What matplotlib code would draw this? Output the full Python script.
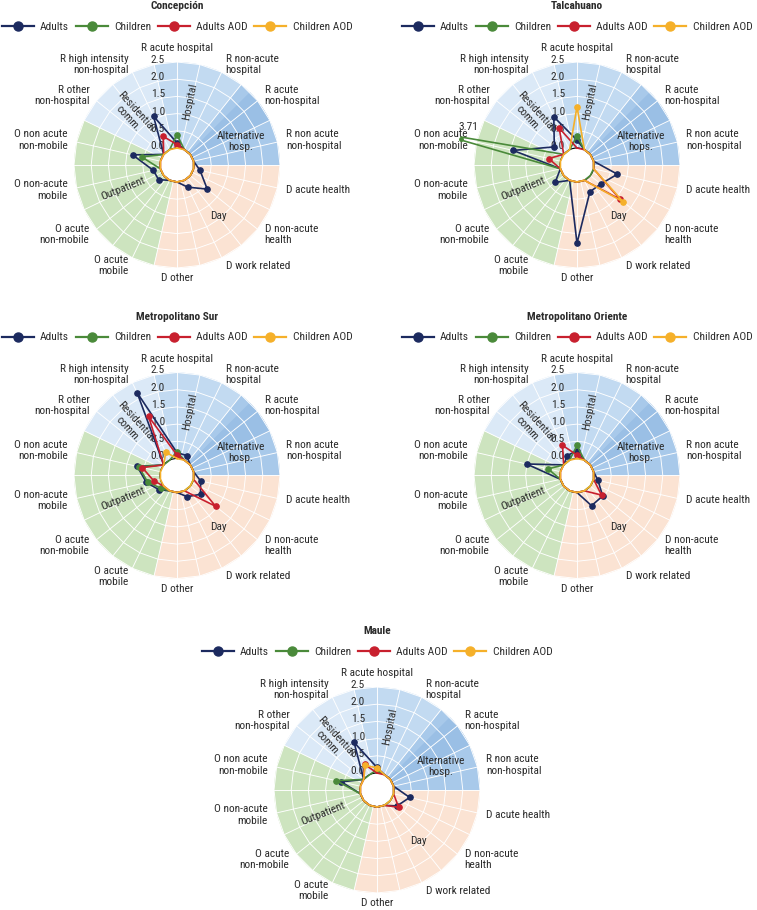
import numpy as np
import matplotlib
matplotlib.use('Agg')
import matplotlib.pyplot as plt
from matplotlib.lines import Line2D
from matplotlib.transforms import offset_copy
from matplotlib import font_manager

names = {f.name for f in font_manager.fontManager.ttflist}
narrow = [n for n in ['Liberation Sans Narrow', 'Roboto Condensed', 'Roboto', 'DejaVu Sans'] if n in names]
plt.rcParams['font.family'] = narrow + ['DejaVu Sans']

#==============================================================================
# DATA
#==============================================================================

categories = ['R acute hospital', 'R non-acute\nhospital', 'R acute\nnon-hospital',
              'R non acute\nnon-hospital', 'D acute health', 'D non-acute\nhealth',
              'D work related', 'D other', 'O acute\nmobile', 'O acute\nnon-mobile',
              'O non-acute\nmobile', 'O non acute\nnon-mobile', 'R other\nnon-hospital',
              'R high intensity\nnon-hospital']

series_names = ['Adults', 'Children', 'Adults AOD', 'Children AOD']

regions = ['Concepción', 'Talcahuano', 'Metropolitano Sur',
           'Metropolitano Oriente', 'Maule']

concepcion_adults      = [0.15, 0, 0, 0, 0.19, 0.63, 0.22, 0, 0, 0.19, 0.21, 0.83, 0, 1.08]
concepcion_children    = [0.39, 0, 0, 0, 0, 0, 0, 0, 0, 0, 0, 0.56, 0, 0]
concepcion_adults_aod  = [0.10, 0, 0, 0, 0, 0, 0, 0, 0, 0, 0, 0, 0, 0.43]
concepcion_children_aod = [0] * 14

talcahuano_adults      = [0.23, 0, 0, 0, 0.71, 0.39, 0.37, 1.78, 0, 0.32, 0, 1.41, 0.35, 1.06]
talcahuano_children    = [0.35, 0, 0, 0, 0, 0, 0, 0, 0, 0, 0, 3.71, 0, 0]
talcahuano_adults_aod  = [0, 0, 0, 0, 0, 1.11, 0, 0, 0, 0, 0, 0.35, 0, 0.70]
talcahuano_children_aod = [1.20, 0, 0, 0, 0, 1.22, 0, 0, 0, 0, 0, 0, 0, 0]

msur_adults      = [0.17, 0.15, 0, 0, 0.21, 0.38, 0.19, 0, 0, 0.17, 0.42, 0.69, 0, 2.18]
msur_children    = [0.20, 0, 0, 0, 0, 0, 0, 0, 0, 0.10, 0.38, 0.64, 0, 0]
msur_adults_aod  = [0.10, 0, 0, 0, 0, 0.94, 0, 0, 0, 0, 0.20, 0.54, 0, 1.41]
msur_children_aod = [0, 0, 0, 0, 0, 0, 0, 0, 0, 0, 0, 0, 0, 0.26]

moriente_adults      = [0.23, 0, 0, 0, 0.13, 0.46, 0.48, 0, 0, 0, 0, 1.01, 0, 0.15]
moriente_children    = [0.38, 0, 0, 0, 0, 0, 0, 0, 0, 0, 0, 0.37, 0, 0]
moriente_adults_aod  = [0.10, 0, 0, 0, 0, 0.42, 0, 0, 0, 0, 0, 0, 0, 0.48]
moriente_children_aod = [0] * 14

maule_adults      = [0.16, 0, 0, 0, 0.48, 0.25, 0, 0, 0, 0, 0, 0.57, 0, 1.04]
maule_children    = [0.10, 0, 0, 0, 0, 0, 0, 0, 0, 0, 0, 0.72, 0, 0]
maule_adults_aod  = [0, 0, 0, 0, 0, 0.31, 0, 0, 0, 0, 0, 0, 0, 0.33]
maule_children_aod = [0.15, 0, 0, 0, 0, 0, 0, 0, 0, 0, 0, 0, 0, 0.30]

region_data = {
    'Concepción': [concepcion_adults, concepcion_children, concepcion_adults_aod, concepcion_children_aod],
    'Talcahuano': [talcahuano_adults, talcahuano_children, talcahuano_adults_aod, talcahuano_children_aod],
    'Metropolitano Sur': [msur_adults, msur_children, msur_adults_aod, msur_children_aod],
    'Metropolitano Oriente': [moriente_adults, moriente_children, moriente_adults_aod, moriente_children_aod],
    'Maule': [maule_adults, maule_children, maule_adults_aod, maule_children_aod],
}

band_labels = ['Hospital', 'Alternative\nhosp.', 'Day', 'Outpatient', 'Residential\ncomm.']
band_start  = [0, 2, 4, 8, 12]
band_size   = [2, 2, 4, 4, 2]

yticks = [0.0, 0.5, 1.0, 1.5, 2.0, 2.5]

#==============================================================================
# STYLE
#==============================================================================

W, H = 757, 910
series_colors = ['#1c2a5f', '#4a8a3a', '#c8202e', '#f5b02a']
band_colors   = ['#c2daf1', '#a8c9ea', '#fbe3d3', '#cde4bf', '#dbe9f7']
dark_alt      = '#9abfe5'
text_color    = '#2b2b2b'
FS = 8.2

centers = [(177, 165), (577, 165), (177, 475.5), (577, 475.5), (377, 790)]
PX_UNIT = 34.4          # pixels per unit
R0      = 17 / PX_UNIT  # hole
RMAX    = 2.965
RPIX    = (RMAX + R0) * PX_UNIT
RGRID   = 2.5

band_text_pos = [(11.5, 1.40, 78.5), (70, 1.48, 0), (141.4, 1.42, 0),
                 (246.5, 1.21, 22), (318, 1.47, -48)]


def clip_polar(th, r, rlim):
    """Cut a closed polar polyline at radius rlim (straight segments on screen)."""
    x = (r + R0) * np.sin(th)
    y = (r + R0) * np.cos(th)
    R = rlim + R0
    px, py = [], []
    for i in range(len(x) - 1):
        p = np.array([x[i], y[i]])
        d = np.array([x[i + 1], y[i + 1]]) - p
        a, b, c = d @ d, 2 * p @ d, p @ p - R * R
        disc = b * b - 4 * a * c
        if a == 0 or disc <= 0:
            if c <= 0:
                px += [p[0], p[0] + d[0]]; py += [p[1], p[1] + d[1]]
            continue
        t0 = max(0.0, (-b - np.sqrt(disc)) / (2 * a))
        t1 = min(1.0, (-b + np.sqrt(disc)) / (2 * a))
        if t1 <= t0:
            continue
        s, e = p + t0 * d, p + t1 * d
        px += [s[0], e[0]]; py += [s[1], e[1]]
        if t1 < 1.0:
            px.append(np.nan); py.append(np.nan)
    px, py = np.array(px), np.array(py)
    return np.arctan2(px, py), np.hypot(px, py) - R0


fig = plt.figure(figsize=(W / 100, H / 100), dpi=100)

n = len(categories)
step = 2 * np.pi / n
theta = np.arange(n) * step

for region, (cx, cy) in zip(regions, centers):
    ax = fig.add_axes([(cx - RPIX) / W, 1 - (cy + RPIX) / H, 2 * RPIX / W, 2 * RPIX / H],
                      projection='polar')
    ax.set_theta_zero_location('N')
    ax.set_theta_direction(-1)
    ax.set_ylim(0, RMAX)
    ax.set_rorigin(-R0)
    ax.set_xticks([])
    ax.set_yticks([])
    ax.grid(False)
    for sp in ax.spines.values():
        sp.set_visible(False)
    ax.patch.set_visible(False)

    # sector bands
    for lab, s0, sz, col in zip(band_labels, band_start, band_size, band_colors):
        ax.bar((s0 + (sz - 1) / 2) * step, RGRID, width=sz * step, bottom=0,
               color=col, edgecolor='none', zorder=1)
    ax.bar(np.deg2rad((45 + 64.3) / 2), RGRID, width=np.deg2rad(64.3 - 45),
           bottom=0, color=dark_alt, edgecolor='none', zorder=1)

    # polygon grid
    spokes = np.arange(2 * n) * step / 2 - step / 2
    for a in spokes:
        ax.plot([a, a], [0, RGRID], color='white', lw=0.65, zorder=2)
    for r in yticks[1:]:
        ax.plot(np.append(spokes, spokes[0]), [r] * (2 * n + 1),
                color='white', lw=0.65, zorder=2)

    # band labels
    for lab, (adeg, rr, rot) in zip(band_labels, band_text_pos):
        if region == 'Talcahuano' and lab.startswith('Alternative'):
            lab = 'Alternative\nhops.'
        ax.text(np.deg2rad(adeg), rr, lab, rotation=rot, ha='center', va='center',
                fontsize=FS, color=text_color, rotation_mode='anchor', zorder=3,
                linespacing=1.15)

    # y tick labels
    tr = offset_copy(ax.transData, fig=fig, x=-12, y=2, units='dots')
    for t in yticks:
        ax.text(0, t, f'{t:.1f}', transform=tr, ha='right', va='center',
                fontsize=FS, color=text_color, zorder=3)

    # category labels
    for i, lab in enumerate(categories):
        s = np.sin(theta[i])
        if abs(s) < 0.1:
            ha = 'center'
            rl = 2.9 if np.cos(theta[i]) > 0 else 2.8
        elif s > 0:
            ha, rl = 'left', 2.76
        else:
            ha, rl = 'right', 2.76
        ax.text(theta[i], rl, lab, ha=ha, va='center', multialignment=ha,
                fontsize=FS, color=text_color, linespacing=1.15)

    # series
    for k, (vals, col) in enumerate(zip(region_data[region], series_colors)):
        v = np.array(vals, dtype=float)
        th_c, r_c = clip_polar(np.append(theta, theta[0]), np.append(v, v[0]), RMAX)
        ax.plot(th_c, r_c, color=col, lw=1.2, zorder=4 + k, clip_on=False)
        show = (v > 0) & (v <= RMAX)
        ax.plot(theta[show], v[show], 'o', color=col, ms=3.8, zorder=4 + k, clip_on=False)
        for th_, vv in zip(theta, v):
            if vv > RMAX:
                ax.plot([th_], [RMAX], 'o', color=col, ms=2.5, zorder=4 + k, clip_on=False)
                ax.annotate(f'{vv:.2f}', (th_, RMAX), xytext=(5, 8),
                            textcoords='offset points', ha='center', va='center',
                            fontsize=FS, color=text_color)

    # title and legend
    fig.text(cx / W, 1 - (cy - 159) / H, region, ha='center', va='center',
             fontsize=FS, fontweight='bold', color=text_color)
    handles = [Line2D([], [], color=c, lw=1.6, marker='o', ms=6.5) for c in series_colors]
    fig.legend(handles, series_names, loc='center', ncol=4, frameon=False,
               bbox_to_anchor=(cx / W, 1 - (cy - 138) / H), fontsize=FS,
               handlelength=2.8, handletextpad=0.55, columnspacing=0.6,
               labelcolor=text_color, borderpad=0.2)

fig.savefig('out.png', dpi=100, facecolor='white')
